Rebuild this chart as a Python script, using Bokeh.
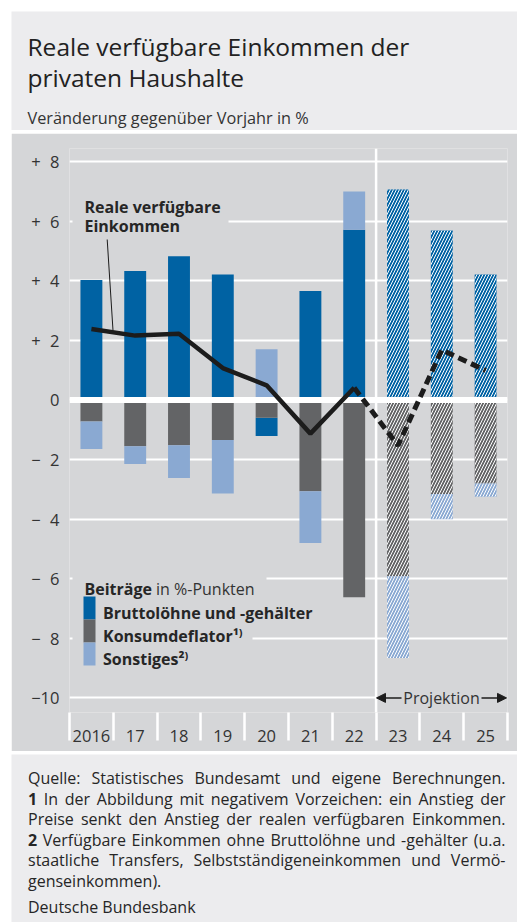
import numpy as np
from bokeh.plotting import figure
from bokeh.models import Range1d, FixedTicker, Label, Arrow, NormalHead, ColumnDataSource
from bokeh.layouts import column
from bokeh.core.properties import value
from bokeh.embed import file_html
from bokeh.resources import INLINE

# ---------------- data ----------------
years = ["2016", "17", "18", "19", "20", "21", "22", "23", "24", "25"]
brutto = [4.03, 4.33, 4.82, 4.21, -0.61, 3.66, 5.71, 7.06, 5.69, 4.21]
deflator = [-0.72, -1.55, -1.52, -1.34, -0.60, -3.06, -6.62, -5.92, -3.16, -2.80]
sonstiges = [-0.93, -0.60, -1.10, -1.80, 1.70, -1.74, 1.29, -2.74, -0.84, -0.45]
real_income = [2.38, 2.16, 2.22, 1.07, 0.49, -1.13, 0.41, -1.53, 1.68, 0.99]
n_hist = 7  # 2016-2022 observed, 2023-2025 projection
y_ticks = [8, 6, 4, 2, 0, -2, -4, -6, -8, -10]
y_labels = ["+\u20078", "+\u20076", "+\u20074", "+\u20072", "0",
            "\u2212\u20072", "\u2212\u20074", "\u2212\u20076", "\u2212\u20078", "\u221210"]

# ---------------- style ----------------
FONT = "Open Sans"
LIGHT_BG = "#ECECEE"
PANEL = "#D5D6D8"
BLUE = "#0062A3"
GREY = "#636466"
LBLUE = "#8AA9D2"
LINE = "#1C1C1C"

W = 506
ORIGIN = 11
Y0, Y1 = -10.49, 8.44
FR_LEFT, FR_TOP, FR_W, FR_H, FR_BOTTOM = 58, 15, 438, 564, 39
TH = 119
CH_TOP_PAGE = ORIGIN + TH + 3
CH_H = FR_TOP + FR_H + FR_BOTTOM
FOOT_TOP_PAGE = CH_TOP_PAGE + CH_H + 3
FH = 922 - FOOT_TOP_PAGE
UNIT = FR_H / (Y1 - Y0)  # px per data unit


def xd(px):  # page px -> data x
    return (px - ORIGIN - FR_LEFT) / FR_W * len(years)


def yd(py):  # page px -> data y
    return Y1 - (py - CH_TOP_PAGE - FR_TOP) / FR_H * (Y1 - Y0)


# ---------------- stacking ----------------
n = len(years)
x = np.arange(n) + 0.5
series = {"brutto": np.array(brutto), "deflator": np.array(deflator), "sonstiges": np.array(sonstiges)}
bottoms = {k: np.zeros(n) for k in series}
tops = {k: np.zeros(n) for k in series}
pos_base = np.zeros(n)
neg_base = np.zeros(n)
for k in ["brutto", "sonstiges", "deflator"]:
    v = series[k]
    m = v > 0
    bottoms[k][m] = pos_base[m]
    tops[k][m] = pos_base[m] + v[m]
    pos_base[m] += v[m]
for k in ["deflator", "sonstiges", "brutto"]:
    v = series[k]
    m = v < 0
    tops[k][m] = neg_base[m]
    bottoms[k][m] = neg_base[m] + v[m]
    neg_base[m] += v[m]
colors = {"brutto": BLUE, "deflator": GREY, "sonstiges": LBLUE}

# ---------------- title figure ----------------
t = figure(frame_width=W, frame_height=TH, x_range=Range1d(0, W), y_range=Range1d(TH, 0),
           x_axis_type=None, y_axis_type=None, min_border=0, tools="",
           toolbar_location=None, output_backend="svg", frame_align=False,
           background_fill_color=LIGHT_BG, border_fill_color=LIGHT_BG, outline_line_color=None)
t.text(x=[16, 16], y=[35, 65.5], text=["Reale verfügbare Einkommen der", "privaten Haushalte"],
       text_font=value(FONT), text_font_size="24.5px", text_color="#222222", text_baseline="alphabetic")
t.text(x=[16], y=[106.5], text=["Veränderung gegenüber Vorjahr in %"],
       text_font=value(FONT), text_font_size="16.3px", text_color="#333333", text_baseline="alphabetic")

# ---------------- chart ----------------
p = figure(frame_width=FR_W, frame_height=FR_H, x_range=Range1d(0, n), y_range=Range1d(Y0, Y1),
           min_border_left=FR_LEFT, min_border_right=W - FR_LEFT - FR_W,
           min_border_top=FR_TOP, min_border_bottom=FR_BOTTOM, frame_align=False,
           tools="", toolbar_location=None, output_backend="svg",
           background_fill_color=PANEL, border_fill_color=PANEL, outline_line_color=None)

p.ygrid.ticker = FixedTicker(ticks=y_ticks)
p.ygrid.grid_line_color = "white"
p.ygrid.grid_line_width = 2
p.xgrid.grid_line_color = None

p.yaxis.ticker = FixedTicker(ticks=y_ticks)
p.yaxis.major_label_overrides = dict(zip(y_ticks, y_labels))
p.yaxis.axis_line_color = None
p.yaxis.major_tick_line_color = None
p.yaxis.minor_tick_line_color = None
p.yaxis.major_tick_out = 0
p.yaxis.minor_tick_out = 0
p.yaxis.major_label_standoff = 10
p.yaxis.major_label_text_font = FONT
p.yaxis.major_label_text_font_size = "16.5px"
p.yaxis.major_label_text_color = "#333333"

p.xaxis.ticker = FixedTicker(ticks=[float(v) for v in x], minor_ticks=list(range(n + 1)))
p.xaxis.major_label_overrides = {float(v): yr for v, yr in zip(x, years)}
p.xaxis.axis_line_color = None
p.xaxis.major_tick_line_color = None
p.xaxis.major_tick_out = 0
p.xaxis.minor_tick_in = 0
p.xaxis.minor_tick_out = 28
p.xaxis.minor_tick_line_color = "white"
p.xaxis.minor_tick_line_width = 2.5
p.xaxis.major_label_standoff = -11
p.xaxis.major_label_text_font = FONT
p.xaxis.major_label_text_font_size = "16.5px"
p.xaxis.major_label_text_color = "#333333"

for k in ["brutto", "deflator", "sonstiges"]:
    p.vbar(x=x[:n_hist], width=0.5, bottom=bottoms[k][:n_hist], top=tops[k][:n_hist],
           fill_color=colors[k], line_color=None)
    p.vbar(x=x[n_hist:], width=0.5, bottom=bottoms[k][n_hist:], top=tops[k][n_hist:],
           fill_color=colors[k], line_color=None,
           hatch_pattern="/", hatch_color="white", hatch_weight=1.0, hatch_scale=6)

# zero line above bars
p.segment(x0=[0], x1=[n], y0=[0], y1=[0], line_color="white", line_width=6)
# grid-line masks behind text blocks (annotation, legend, projection marker)
half = 2.2 / UNIT
mask_rows = [(6, 72, 228), (-6, 72, 266), (-8, 72, 252)]
p.quad(left=[xd(a) for _, a, _ in mask_rows], right=[xd(b) for _, _, b in mask_rows],
       bottom=[g - half for g, _, _ in mask_rows], top=[g + half for g, _, _ in mask_rows],
       fill_color=PANEL, line_color=None)
p.quad(left=[n_hist], right=[n], bottom=[-10 - half], top=[-10 + half], fill_color=PANEL, line_color=None)
# projection separator
p.segment(x0=[n_hist], x1=[n_hist], y0=[Y0], y1=[Y1], line_color="white", line_width=2.5)

# leader line of annotation
p.segment(x0=[xd(106.7)], y0=[yd(239)], x1=[xd(112.5)], y1=[yd(330)], line_color=LINE, line_width=1)

# real income line
p.line(x[:n_hist], real_income[:n_hist], line_color=LINE, line_width=4.5)
p.line(x[n_hist - 1:], real_income[n_hist - 1:], line_color=LINE, line_width=5, line_dash="9 5")

# annotation label
p.add_layout(Label(x=xd(84), y=yd(195), text="Reale verfügbare\nEinkommen", text_font=FONT,
                   text_font_size="16px", text_font_style="bold", text_color="#262626",
                   text_baseline="top", text_line_height=0.9))

# legend
p.quad(left=[xd(83)] * 3, right=[xd(95)] * 3,
       top=[yd(596), yd(619), yd(642)], bottom=[yd(619), yd(642), yd(665)],
       fill_color=[BLUE, GREY, LBLUE], line_color=None)
p.add_layout(Label(x=xd(84), y=yd(588), text="Beiträge", text_font=FONT, text_font_size="16px",
                   text_font_style="bold", text_color="#262626", text_baseline="alphabetic"))
p.add_layout(Label(x=xd(155.5), y=yd(588), text="in %-Punkten", text_font=FONT, text_font_size="16px",
                   text_color="#333333", text_baseline="alphabetic"))
for ty, txt in [(612.5, "Bruttolöhne und -gehälter"), (635.5, "Konsumdeflator\u00b9\u207e"),
                (658, "Sonstiges\u00b2\u207e")]:
    p.add_layout(Label(x=xd(102.5), y=yd(ty), text=txt, text_font=FONT, text_font_size="16px",
                       text_font_style="bold", text_color="#262626", text_baseline="alphabetic"))

# projection marker
p.add_layout(Label(x=xd(441), y=-10, text="Projektion", text_font=FONT, text_font_size="16px",
                   text_color="#333333", text_align="center", text_baseline="middle"))
p.add_layout(Arrow(end=NormalHead(size=9, fill_color=LINE, line_color=LINE),
                   x_start=xd(401), y_start=-10, x_end=xd(376), y_end=-10,
                   line_color=LINE, line_width=1.5))
p.add_layout(Arrow(end=NormalHead(size=9, fill_color=LINE, line_color=LINE),
                   x_start=xd(481), y_start=-10, x_end=xd(506), y_end=-10,
                   line_color=LINE, line_width=1.5))

# ---------------- footnote figure (justified text) ----------------
f = figure(frame_width=W, frame_height=FH, x_range=Range1d(0, W), y_range=Range1d(FH, 0),
           x_axis_type=None, y_axis_type=None, min_border=0, tools="", frame_align=False,
           toolbar_location=None, output_backend="svg",
           background_fill_color=LIGHT_BG, border_fill_color=LIGHT_BG, outline_line_color=None)

# approximate Open Sans advance widths (1/2048 em) for justification
ADV = dict(zip("abcdefghijklmnopqrstuvwxyz",
               [1139, 1255, 975, 1255, 1149, 694, 1122, 1257, 518, 518, 1075, 518, 1905, 1257,
                1237, 1255, 1255, 836, 977, 723, 1257, 1026, 1593, 1073, 1028, 977]))
ADV.update(zip("ABCDEFGHIJKLMNOPQRSTUVWXYZ",
               [1296, 1327, 1292, 1493, 1139, 1057, 1491, 1511, 571, 547, 1257, 1063, 1849, 1544,
                1595, 1233, 1595, 1266, 1124, 1133, 1491, 1219, 1896, 1182, 1147, 1169]))
ADV.update({c: 1171 for c in "0123456789"})
ADV.update({" ": 532, ".": 545, ",": 500, ":": 545, "-": 659, "(": 608, ")": 608,
            "ä": 1139, "ö": 1237, "ü": 1257, "%": 1702})
FOOT_SIZE = 16.0


def tw(s):
    return sum(ADV.get(c, 1150) for c in s) / 2048 * FOOT_SIZE


foot_lines = [
    ("Quelle: Statistisches Bundesamt und eigene Berechnungen.", 777.5, True),
    ("1 In der Abbildung mit negativem Vorzeichen: ein Anstieg der", 798, True),
    ("Preise senkt den Anstieg der realen verfügbaren Einkommen.", 818.5, True),
    ("2 Verfügbare Einkommen ohne Bruttolöhne und -gehälter (u.a.", 839, True),
    ("staatliche Transfers, Selbstständigeneinkommen und Vermö-", 859.5, True),
    ("genseinkommen).", 880, False),
    ("Deutsche Bundesbank", 906, False),
]
L, R = 16.5, 494.0
fx, fy, ft, fs, fa = [], [], [], [], []
for line, base, justify in foot_lines:
    words = line.split(" ")
    widths = [tw(w) for w in words]
    sp = tw(" ")
    if justify and len(words) > 1:
        gap = max(sp, (R - L - sum(widths)) / (len(words) - 1))
    else:
        gap = sp
    cx = L
    for i, (w, wd) in enumerate(zip(words, widths)):
        last = justify and i == len(words) - 1 and len(words) > 1
        fx.append(R if last else cx)
        fa.append("right" if last else "left")
        fy.append(base - FOOT_TOP_PAGE)
        ft.append(w)
        fs.append("bold" if (i == 0 and w in ("1", "2")) else "normal")
        cx += wd + gap
fsrc = ColumnDataSource(dict(x=fx, y=fy, text=ft, style=fs, align=fa))
f.text(x="x", y="y", text="text", source=fsrc, text_font=value(FONT), text_font_size=f"{FOOT_SIZE}px",
       text_font_style="style", text_align="align", text_color="#262626", text_baseline="alphabetic")

layout = column(t, p, f, spacing=3, margin=(ORIGIN, 0, 0, ORIGIN))
open("out.html", "w").write(file_html(layout, INLINE, title="Reale verfügbare Einkommen"))
